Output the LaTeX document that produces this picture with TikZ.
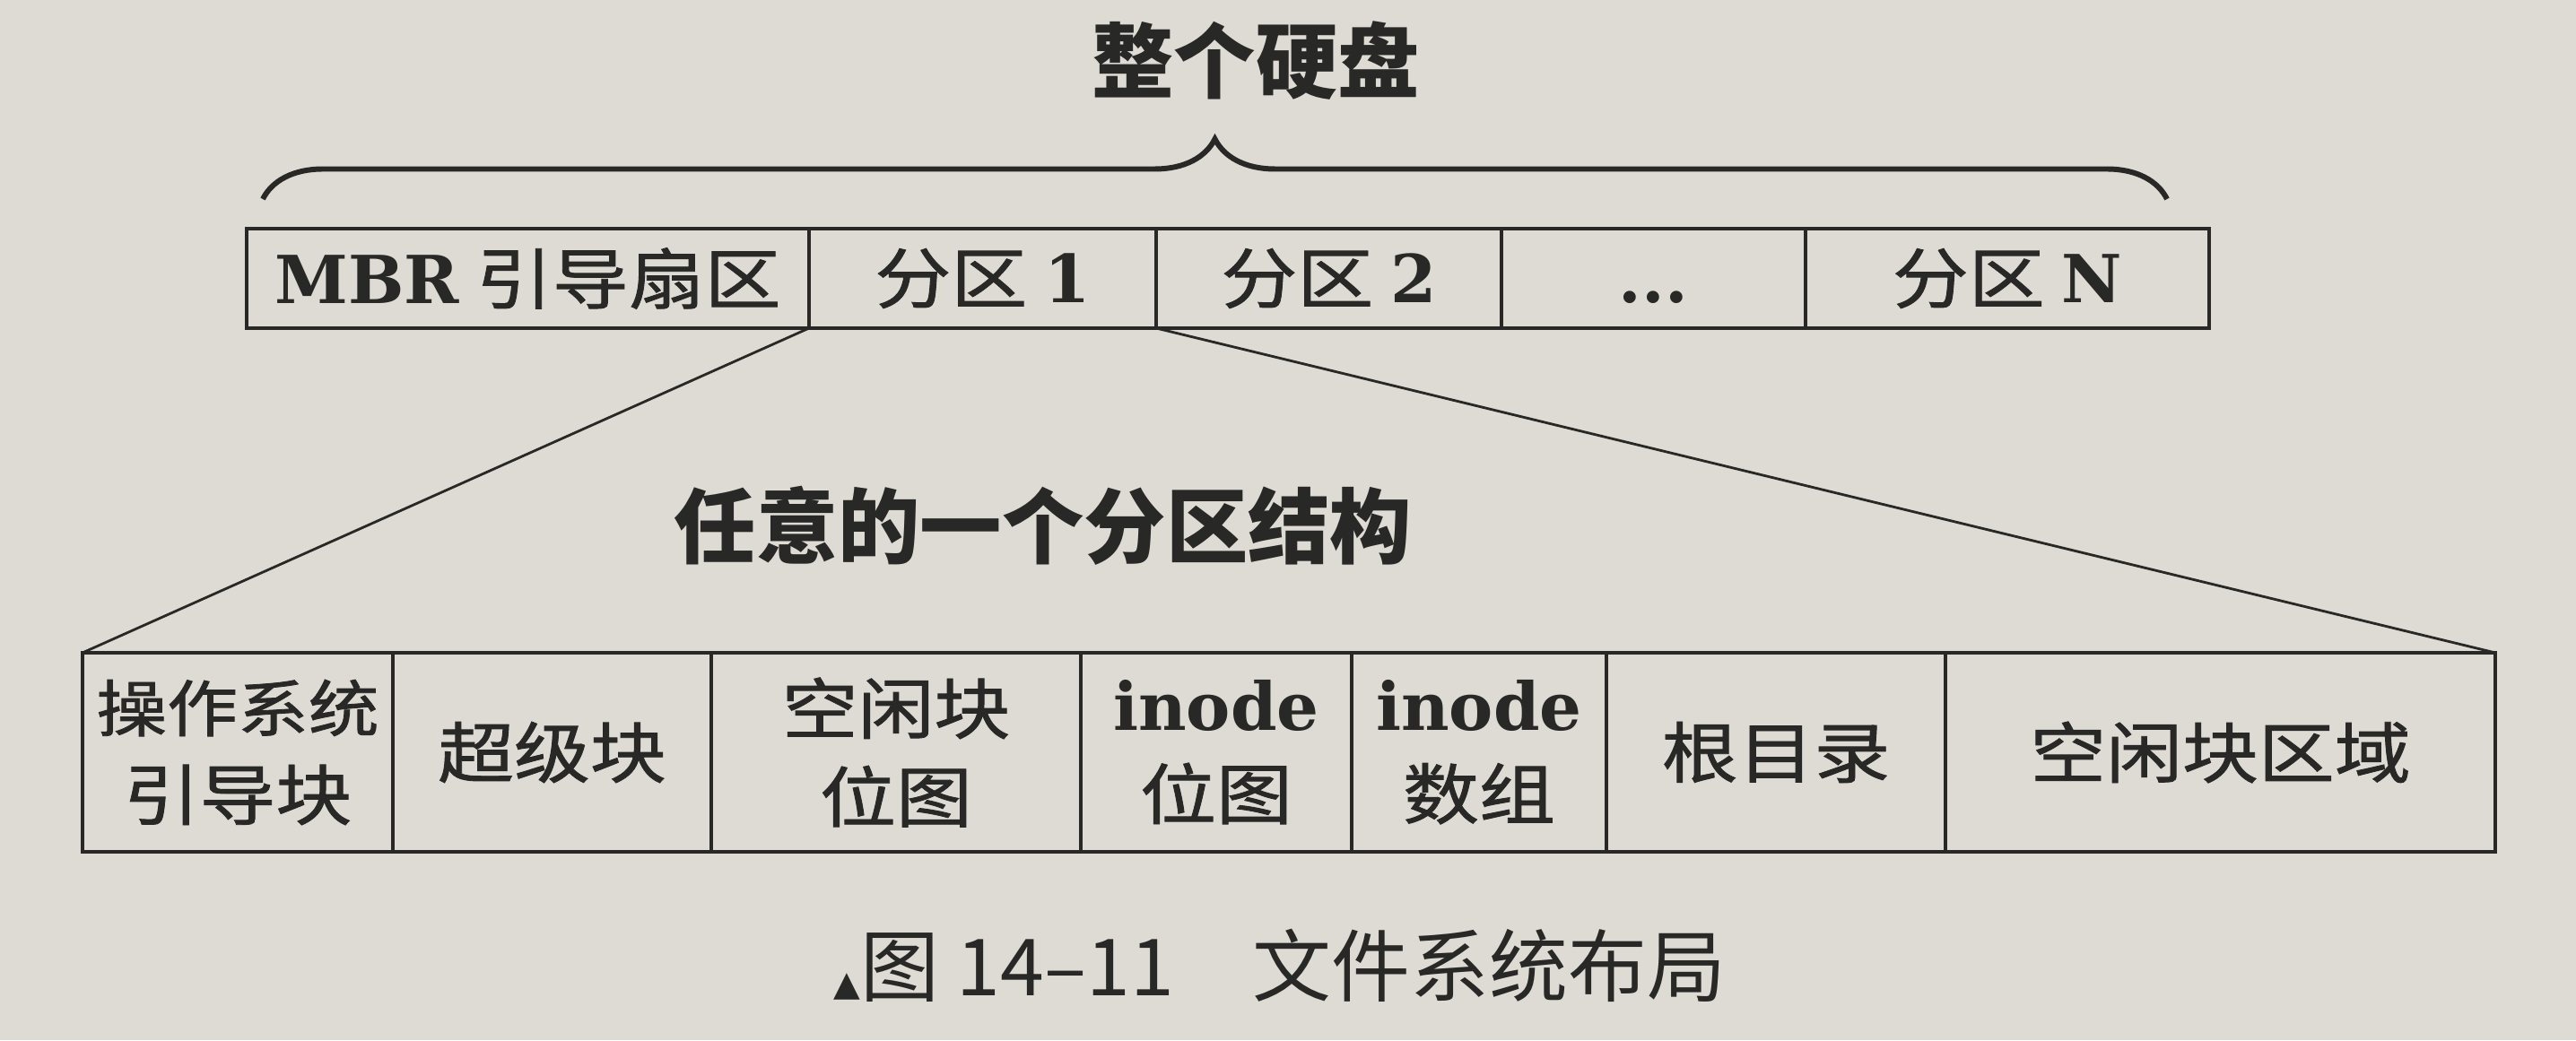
\documentclass[tikz,border=0pt]{standalone}
\usepackage{fontspec}
\usetikzlibrary{decorations.pathreplacing}
\setmainfont{DejaVu Serif}
\newfontfamily\cjk{Noto Sans CJK SC}
\newfontfamily\cjkwide[FakeStretch=1.15,FakeBold=1.2]{Noto Sans CJK SC}
\newfontfamily\symfont{DejaVu Sans}
\newcommand{\lat}[1]{{\rmfamily\bfseries #1}}
\definecolor{paper}{RGB}{221,219,212}
\definecolor{ink}{RGB}{40,40,38}
\tikzset{
  cell/.style={draw=ink, line width=1.1pt, inner sep=0pt, outer sep=0pt,
    anchor=west, text=ink, align=center,
    font=\cjkwide\fontsize{21}{28}\selectfont},
  topcell/.style={cell, minimum height=1.11cm},
  lowcell/.style={cell, minimum height=2.22cm},
  link/.style={draw=ink, line width=0.8pt},
  hdbrace/.style={draw=ink, line width=1.7pt, decorate,
    decoration={brace, amplitude=0.67cm}},
  heading/.style={text=ink, font=\cjk\bfseries\fontsize{26}{30}\selectfont}
}
\begin{document}
\begin{tikzpicture}
    \useasboundingbox [fill=paper] (0, 0) rectangle (28.72, 11.6);

    % the whole disk
    \node [topcell, minimum width=6.27cm] (mbr) at (2.75, 8.495)
    {\lat{MBR} 引导扇区};
    \node [topcell, minimum width=3.87cm] (p1) at (mbr.east) {分区 \lat{1}};
    \node [topcell, minimum width=3.85cm] (p2) at (p1.east) {分区 \lat{2}};
    \node [topcell, minimum width=3.39cm] (pdots) at (p2.east)
    {\lat{...}\vphantom{分区}};
    \node [topcell, minimum width=4.50cm] (pn) at (pdots.east) {分区 \lat{N}};

    \coordinate (bl) at (2.93, 9.38);
    \coordinate (br) at (24.16, 9.38);
    \draw [hdbrace] (bl) -- (br);
    \node [heading] (disk) at (14.0, 10.92) {整个硬盘};

    % one partition
    \node [lowcell, minimum width=3.46cm] (boot) at (0.92, 3.21)
    {{\fontsize{19.5}{28}\selectfont 操作系统}\\引导块};
    \node [lowcell, minimum width=3.55cm] (super) at (boot.east) {超级块};
    \node [lowcell, minimum width=4.12cm] (fbmap) at (super.east) {空闲块\\位图};
    \node [lowcell, minimum width=3.02cm] (ibmap) at (fbmap.east)
    {\lat{inode}\\位图};
    \node [lowcell, minimum width=2.84cm] (iarr) at (ibmap.east)
    {\lat{inode}\\数组};
    \node [lowcell, minimum width=3.78cm] (root) at (iarr.east) {根目录};
    \node [lowcell, minimum width=6.13cm] (free) at (root.east) {空闲块区域};

    \node [heading] (part) at (11.63, 5.74) {任意的一个分区结构};

    \draw [link] (mbr.south east) -- (boot.north west);
    \draw [link] (p1.south east) -- (free.north east);

    \node [text=ink, font=\cjk\fontsize{25}{30}\selectfont] (cap) at (14.27, 0.83)
    {{\symfont\fontsize{11}{11}\selectfont ▲}图 14–11\quad 文件系统布局};
  \end{tikzpicture}
\end{document}
